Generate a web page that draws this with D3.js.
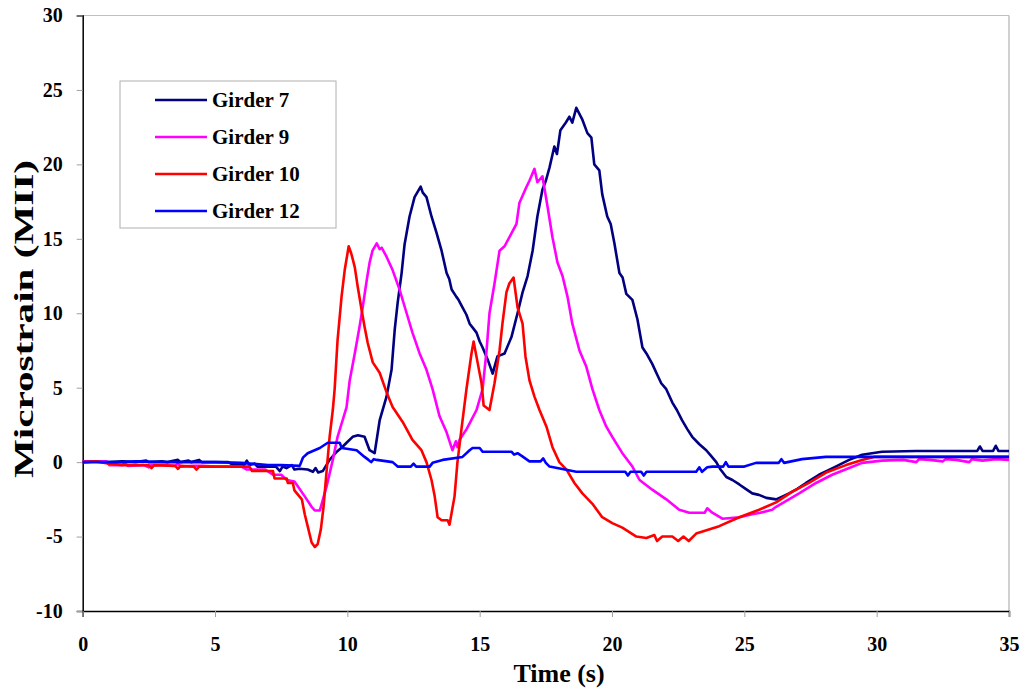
<!DOCTYPE html>
<html><head><meta charset="utf-8">
<script src="https://cdn.jsdelivr.net/npm/d3@7"></script>
<style>
html,body{margin:0;padding:0;background:#fff;}
svg{display:block;}
text{font-family:"Liberation Serif","Times New Roman",serif;font-weight:bold;fill:#000;}
</style></head>
<body><svg id="chart" width="1024" height="688"></svg>
<script>
const seriesNames = ["Girder 7", "Girder 9", "Girder 10", "Girder 12"];
const seriesColors = ["#000080", "#FF00FF", "#FF0000", "#0000FF"];
const xTicks = [0, 5, 10, 15, 20, 25, 30, 35];
const yTicks = [-10, -5, 0, 5, 10, 15, 20, 25, 30];

const girder7 = [[0,0],[0.5,0.05],[1,0],[1.5,0.05],[2,0],[2.4,0.1],[2.5,0],[3,0.05],[3.2,0],[3.6,0.15],[3.7,0],[4.0,0.1],[4.1,0],[4.4,0.15],[4.5,0],[5.0,0],[5.5,0],[5.7,-0.2],[6.1,-0.2],[6.2,0.1],[6.3,-0.2],[6.5,-0.1],[6.6,-0.3],[7.0,-0.3],[7.3,-0.3],[7.45,-0.6],[7.55,-0.3],[7.7,-0.4],[7.9,-0.2],[8.0,-0.5],[8.2,-0.45],[8.5,-0.5],[8.7,-0.65],[8.8,-0.4],[8.9,-0.7],[9.07,-0.6],[9.33,0.15],[9.6,0.7],[9.8,1.0],[9.97,1.3],[10.2,1.7],[10.4,1.8],[10.65,1.7],[10.84,0.8],[11.03,0.6],[11.22,2.8],[11.48,4.4],[11.67,6.2],[11.79,8.9],[11.9,10.7],[12.05,12.7],[12.16,14.6],[12.35,16.5],[12.54,17.8],[12.77,18.5],[12.85,18.1],[12.99,17.8],[13.18,16.5],[13.37,15.4],[13.56,14.2],[13.75,12.7],[13.85,12.3],[13.94,11.6],[14.12,11.1],[14.2,10.9],[14.35,10.4],[14.5,9.9],[14.62,9.3],[14.75,9.0],[14.88,8.7],[15.0,8.1],[15.11,7.7],[15.3,6.9],[15.49,5.95],[15.67,7.1],[15.94,7.3],[16.2,8.4],[16.43,10.0],[16.62,11.4],[16.81,12.5],[17.0,14.2],[17.18,16.5],[17.37,18.3],[17.5,18.9],[17.64,19.8],[17.82,21.2],[17.92,20.7],[18.05,22.3],[18.25,22.8],[18.39,23.2],[18.5,22.8],[18.65,23.8],[18.88,23.0],[19.07,22.1],[19.22,21.8],[19.33,20.0],[19.52,19.6],[19.63,18.0],[19.82,16.5],[19.95,16.0],[20.09,14.7],[20.28,12.7],[20.4,12.4],[20.54,11.3],[20.77,10.9],[20.96,9.6],[21.15,7.7],[21.3,7.3],[21.52,6.6],[21.7,5.9],[21.86,5.3],[22.05,4.9],[22.28,4.0],[22.45,3.5],[22.65,2.8],[22.85,2.2],[23.03,1.7],[23.3,1.2],[23.56,0.8],[23.75,0.4],[23.94,0],[24.1,-0.5],[24.32,-1.0],[24.55,-1.2],[24.81,-1.5],[25.05,-1.8],[25.3,-2.1],[25.55,-2.2],[25.83,-2.4],[26.2,-2.5],[26.45,-2.3],[26.69,-2.1],[27.0,-1.8],[27.33,-1.4],[27.82,-0.85],[28.1,-0.6],[28.45,-0.3],[28.96,0.15],[29.45,0.5],[30.2,0.7],[31.48,0.75],[33.8,0.75],[33.9,1.05],[34.0,0.75],[34.4,0.75],[34.5,1.1],[34.6,0.75],[35,0.75]];

const girder9 = [[0,0.05],[0.9,0.05],[1.0,-0.2],[1.5,-0.2],[1.6,-0.05],[1.7,-0.25],[2.3,-0.2],[2.5,-0.35],[2.6,-0.2],[3.0,-0.2],[3.5,-0.25],[3.6,-0.1],[3.7,-0.3],[4.2,-0.25],[4.5,-0.25],[5.0,-0.3],[5.5,-0.3],[6.0,-0.3],[6.2,-0.5],[6.9,-0.5],[7.19,-0.85],[7.5,-0.85],[7.71,-1.2],[8.0,-1.3],[8.12,-1.6],[8.39,-2.3],[8.65,-3.0],[8.77,-3.25],[8.96,-3.25],[9.22,-1.6],[9.45,0.15],[9.63,1.7],[9.82,2.8],[9.97,3.7],[10.09,5.5],[10.28,7.3],[10.46,9.1],[10.58,10.4],[10.73,12.2],[10.84,13.4],[10.95,14.2],[11.11,14.7],[11.22,14.3],[11.3,14.4],[11.48,13.8],[11.71,12.9],[11.97,11.6],[12.24,10.0],[12.46,8.7],[12.73,7.3],[12.99,6.2],[13.22,4.9],[13.48,3.1],[13.75,2.0],[13.97,0.8],[14.1,1.4],[14.16,1.0],[14.24,1.5],[14.5,2.2],[14.62,2.6],[14.88,3.5],[15.11,4.9],[15.26,7.5],[15.37,10.0],[15.56,12.0],[15.75,14.2],[15.94,14.5],[16.12,15.1],[16.39,16.0],[16.5,17.4],[16.77,18.5],[16.88,18.9],[17.07,19.7],[17.18,18.8],[17.37,19.2],[17.56,17.2],[17.75,15.1],[17.94,13.4],[18.13,12.5],[18.32,11.1],[18.5,9.3],[18.77,7.5],[19.03,6.4],[19.26,4.9],[19.52,3.5],[19.78,2.4],[20.01,1.7],[20.39,0.6],[20.77,-0.3],[21.04,-1.2],[21.52,-1.85],[22.05,-2.5],[22.54,-3.2],[22.92,-3.4],[23.5,-3.4],[23.6,-3.1],[23.79,-3.4],[24.17,-3.8],[24.81,-3.7],[25.3,-3.5],[25.6,-3.4],[26.05,-3.2],[26.2,-3.0],[27.07,-2.1],[27.71,-1.4],[28.32,-0.85],[28.96,-0.4],[29.45,-0.05],[30.2,0.1],[31,0.15],[31.5,0.0],[31.6,0.2],[32,0.15],[32.5,0.05],[32.6,0.2],[33,0.15],[33.5,0.0],[33.6,0.2],[34,0.1],[34.5,0.2],[35,0.15]];

const girder10 = [[0,0],[0.5,0.05],[1.0,-0.1],[1.5,-0.2],[2.5,-0.2],[2.6,-0.4],[2.7,-0.2],[3.5,-0.25],[3.6,-0.45],[3.7,-0.25],[4.2,-0.3],[4.3,-0.5],[4.4,-0.3],[5.2,-0.3],[6.3,-0.3],[6.4,-0.6],[7.19,-0.6],[7.25,-1.1],[7.71,-1.1],[7.75,-1.4],[7.94,-1.4],[8.0,-1.9],[8.28,-2.5],[8.39,-3.5],[8.5,-4.3],[8.65,-5.4],[8.77,-5.7],[8.88,-5.5],[9.0,-4.5],[9.1,-3.0],[9.22,-0.5],[9.33,1.7],[9.45,3.5],[9.52,4.9],[9.63,8.2],[9.78,11.1],[9.9,12.9],[10.05,14.5],[10.15,14.0],[10.28,13.1],[10.39,11.8],[10.54,10.2],[10.65,9.1],[10.77,8.0],[10.96,6.7],[11.22,6.0],[11.48,4.7],[11.71,3.7],[12.09,2.7],[12.46,1.5],[12.8,0.8],[12.99,0.0],[13.18,-1.2],[13.3,-2.3],[13.41,-3.7],[13.56,-3.9],[13.79,-3.9],[13.86,-4.2],[14.05,-2.3],[14.16,0],[14.31,2.2],[14.5,4.9],[14.69,7.3],[14.77,8.1],[14.92,6.7],[15.07,5.3],[15.15,3.8],[15.37,3.5],[15.56,5.3],[15.75,7.5],[15.86,9.3],[16.01,11.4],[16.12,12.0],[16.28,12.4],[16.43,10.4],[16.62,9.3],[16.73,7.1],[16.88,5.5],[17.07,4.4],[17.26,3.5],[17.52,2.4],[17.75,1.0],[18.01,0],[18.28,-0.5],[18.58,-1.4],[18.88,-2.1],[19.26,-2.8],[19.63,-3.7],[20.01,-4.1],[20.39,-4.4],[20.92,-5.0],[21.3,-5.1],[21.6,-4.9],[21.7,-5.3],[21.9,-5.0],[22.28,-5.0],[22.5,-5.3],[22.7,-5.0],[22.9,-5.3],[23.18,-4.8],[24.05,-4.3],[24.81,-3.7],[25.56,-3.2],[26.2,-2.7],[26.8,-2.0],[27.44,-1.4],[28.09,-0.7],[28.84,-0.2],[29.45,0.15],[29.9,0.35],[35,0.35]];

const girder12 = [[0,0],[1.5,0],[2.0,0.05],[3.0,0],[4.0,0],[5.0,0],[6.0,-0.05],[7.0,-0.2],[7.5,-0.2],[8.2,-0.25],[8.32,0.3],[8.5,0.6],[8.96,0.95],[9.26,1.3],[9.71,1.3],[9.79,0.95],[10.35,0.8],[10.65,0.35],[10.8,0.15],[10.9,0.0],[11.0,0.2],[11.11,0.15],[11.71,0],[11.9,-0.3],[12.4,-0.3],[12.5,-0.1],[12.6,-0.3],[13.11,-0.3],[13.22,-0.05],[13.6,0.15],[14.35,0.35],[14.62,0.8],[14.73,0.95],[15.0,0.95],[15.11,0.7],[16.2,0.7],[16.3,0.5],[16.43,0.6],[16.6,0.4],[16.88,0.05],[17.3,0.05],[17.4,0.25],[17.5,-0.05],[17.64,-0.3],[18.65,-0.65],[20.5,-0.65],[20.6,-0.9],[20.7,-0.65],[21.1,-0.65],[21.2,-0.9],[21.3,-0.65],[23.18,-0.65],[23.3,-0.35],[23.4,-0.65],[23.6,-0.35],[23.79,-0.3],[24.2,-0.3],[24.3,0.0],[24.4,-0.3],[25.0,-0.3],[25.44,-0.05],[26.3,-0.05],[26.4,0.2],[26.5,-0.05],[27.18,0.2],[28.08,0.35],[35,0.35]];

const seriesData = [girder7, girder9, girder10, girder12];

const svg = d3.select("#chart");
const L = 82.7, R = 1009, T = 15.5, B = 611;
const x = d3.scaleLinear().domain([0, 35]).range([L, R]);
const y = d3.scaleLinear().domain([-10, 30]).range([B, T]);
const fmt = d => String(d);

// frame: top and right light grey
svg.append("line").attr("x1", L).attr("x2", R).attr("y1", T).attr("y2", T).attr("stroke", "#c0c0c0").attr("stroke-width", 1);
svg.append("line").attr("x1", R).attr("x2", R).attr("y1", T).attr("y2", B).attr("stroke", "#c0c0c0").attr("stroke-width", 1.5);

// axes
const yAxis = d3.axisLeft(y).tickValues(yTicks).tickSize(6).tickPadding(14).tickFormat(fmt);
const gy = svg.append("g").attr("transform", `translate(${L},0)`).call(yAxis);
gy.select(".domain").attr("stroke", "#000").attr("stroke-width", 1.5);
gy.selectAll(".tick line").attr("stroke", "#a0a0a0");
gy.selectAll(".tick text").attr("font-size", 20).attr("font-family", "Liberation Serif").attr("font-weight", "bold").attr("fill", "#000");

const xAxis = d3.axisBottom(x).tickValues(xTicks).tickSize(6).tickPadding(20).tickFormat(fmt);
const gx = svg.append("g").attr("transform", `translate(0,${B})`).call(xAxis);
gx.select(".domain").attr("stroke", "#000").attr("stroke-width", 1.5);
gx.selectAll(".tick line").attr("stroke", "#a0a0a0");
gx.selectAll(".tick text").attr("font-size", 20).attr("font-family", "Liberation Serif").attr("font-weight", "bold").attr("fill", "#000");

// lines
const line = d3.line().x(d => x(d[0])).y(d => y(d[1]));
seriesData.forEach((s, i) => {
  svg.append("path").datum(s).attr("d", line).attr("fill", "none")
    .attr("stroke", seriesColors[i]).attr("stroke-width", 2.6).attr("stroke-linejoin", "round");
});

// titles
svg.append("text").attr("x", 559).attr("y", 682).attr("text-anchor", "middle")
  .attr("font-size", 26).text("Time (s)");
svg.append("text").attr("transform", `translate(33,319) rotate(-90)`).attr("text-anchor", "middle")
  .attr("font-size", 28).attr("textLength", 318).attr("lengthAdjust", "spacingAndGlyphs")
  .text("Microstrain (MII)");

// legend
const lg = svg.append("g");
lg.append("rect").attr("x", 120).attr("y", 81).attr("width", 216).attr("height", 147)
  .attr("fill", "#fff").attr("stroke", "#b0b0b0").attr("stroke-width", 1);
seriesNames.forEach((n, i) => {
  const cy = 100 + i * 37;
  lg.append("line").attr("x1", 155).attr("x2", 207).attr("y1", cy).attr("y2", cy)
    .attr("stroke", seriesColors[i]).attr("stroke-width", 2.5);
  lg.append("text").attr("x", 212).attr("y", cy + 7).attr("font-size", 21).text(n);
});
</script></body></html>
